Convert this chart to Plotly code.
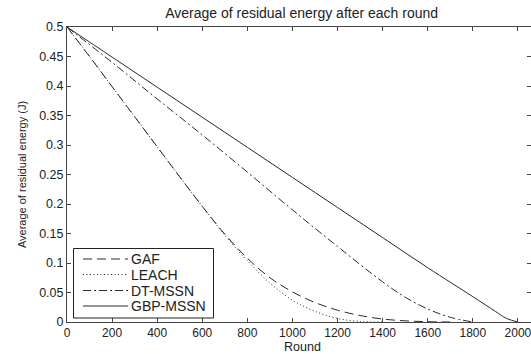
import plotly.graph_objects as go

# Data
gbp_x = [0, 200, 400, 600, 800, 1000, 1200, 1400, 1600, 1800, 1900, 1950, 2000]
gbp_y = [0.5, 0.449, 0.398, 0.347, 0.296, 0.245, 0.194, 0.143, 0.092, 0.043, 0.018, 0.006, 0.0]

dt_x = [0, 200, 400, 600, 800, 1000, 1200, 1400, 1500, 1600, 1700, 1800]
dt_y = [0.5, 0.44, 0.378, 0.317, 0.254, 0.19, 0.128, 0.068, 0.042, 0.022, 0.008, 0.0]

gaf_x = [0, 100, 200, 300, 400, 500, 600, 700, 800, 900, 1000, 1100, 1200, 1300, 1400, 1500, 1600, 1700]
gaf_y = [0.5, 0.450, 0.399, 0.348, 0.297, 0.246, 0.196, 0.149, 0.108, 0.075, 0.051, 0.033, 0.020, 0.011, 0.005, 0.002, 0.0005, 0.0]

leach_x = [0, 100, 200, 300, 400, 500, 600, 700, 800, 900, 1000, 1100, 1200, 1300, 1400]
leach_y = [0.5, 0.450, 0.399, 0.348, 0.297, 0.246, 0.196, 0.147, 0.104, 0.066, 0.037, 0.018, 0.006, 0.001, 0.0]

series_names = ["GAF", "LEACH", "DT-MSSN", "GBP-MSSN"]
x_ticks = [0, 200, 400, 600, 800, 1000, 1200, 1400, 1600, 1800, 2000]
y_ticks = [0, 0.05, 0.1, 0.15, 0.2, 0.25, 0.3, 0.35, 0.4, 0.45, 0.5]
y_ticktext = ["0", "0.05", "0.1", "0.15", "0.2", "0.25", "0.3", "0.35", "0.4", "0.45", "0.5"]

line_color = "#2a2a2a"
text_color = "#222"
font_family = "Liberation Sans, Arial, sans-serif"
dashes = ["9px,5px", "1px,2.5px", "8px,3px,2px,3px", "solid"]

W, H = 531, 354
ML, MR, MT, MB = 67, 0, 27, 32
PW, PH = W - ML - MR, H - MT - MB


def px_x(p):
    return (p - ML) / PW


def px_y(p):
    return (H - MB - p) / PH


fig = go.Figure()
for xs, ys, name, dash in zip([gaf_x, leach_x, dt_x, gbp_x], [gaf_y, leach_y, dt_y, gbp_y],
                              series_names, dashes):
    fig.add_trace(go.Scatter(x=xs, y=ys, mode="lines", name=name, showlegend=False,
                             line=dict(color=line_color, width=1, dash=dash), line_shape="spline"))

# Manual MATLAB-style legend box
shapes = [dict(type="rect", xref="paper", yref="paper",
               x0=px_x(73.5), x1=px_x(213.5), y0=px_y(318), y1=px_y(248.5),
               line=dict(color="#222", width=1), fillcolor="white", layer="above")]
annotations = []
legend_rows = [259, 274.5, 290.5, 306]
for name, dash, ry in zip(series_names, dashes, legend_rows):
    shapes.append(dict(type="line", xref="paper", yref="paper",
                       x0=px_x(83), x1=px_x(128), y0=px_y(ry), y1=px_y(ry),
                       line=dict(color=line_color, width=1, dash=dash), layer="above"))
    annotations.append(dict(text=name, xref="paper", yref="paper", x=px_x(129), y=px_y(ry),
                            xanchor="left", yanchor="middle", showarrow=False,
                            font=dict(family=font_family, size=14, color=text_color)))

# x-axis title placed explicitly, as in the reference
annotations.append(dict(text="Round", xref="paper", yref="paper", x=px_x(302.5), y=px_y(346.5),
                        xanchor="center", yanchor="middle", showarrow=False,
                        font=dict(family=font_family, size=12.5, color=text_color)))

axis_common = dict(showgrid=False, zeroline=False, showline=True, linecolor="#444", linewidth=1,
                   mirror="ticks", ticks="inside", ticklen=4, tickcolor="#444",
                   ticklabeloverflow="allow",
                   tickfont=dict(family=font_family, size=12.5, color=text_color))

fig.update_layout(
    width=W, height=H,
    margin=dict(l=ML, r=MR, t=MT, b=MB, autoexpand=False),
    paper_bgcolor="white", plot_bgcolor="white",
    font=dict(family=font_family, size=12, color=text_color),
    title=dict(text="Average of residual energy after each round", x=0.568, xanchor="center",
               y=0.963, yanchor="middle", font=dict(family=font_family, size=14, color=text_color)),
    xaxis=dict(range=[0, 2058], tickvals=x_ticks, ticktext=[str(v) for v in x_ticks],
               tickfont=dict(family=font_family, size=12, color=text_color),
               **{k: v for k, v in axis_common.items() if k != "tickfont"}),
    yaxis=dict(range=[0, 0.5], tickvals=y_ticks, ticktext=y_ticktext,
               title=dict(text="Average of residual energy (J)", standoff=10,
                          font=dict(family=font_family, size=11, color=text_color)),
               **axis_common),
    shapes=shapes,
    annotations=annotations,
    showlegend=False,
)

fig.write_html("out.html", config={"displayModeBar": False},
               post_script="document.body.style.margin='0';document.body.style.overflow='hidden';")
